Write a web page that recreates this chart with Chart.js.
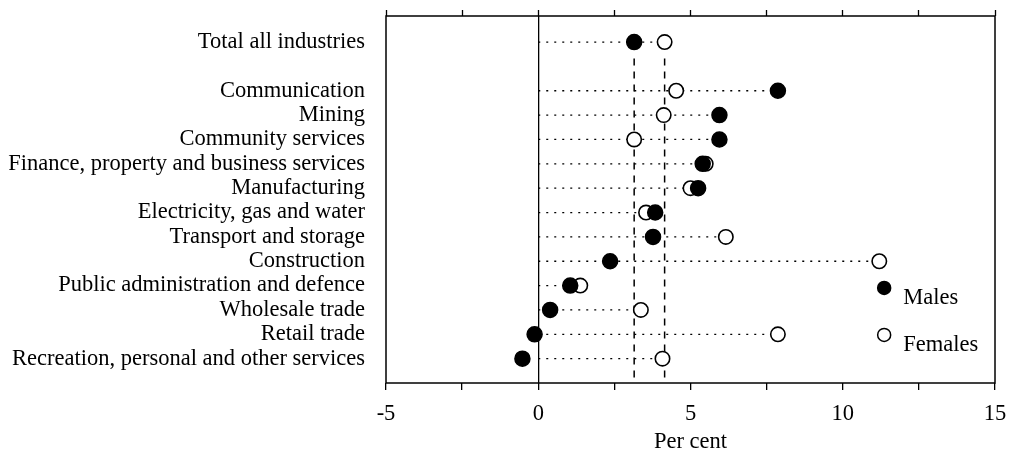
<!DOCTYPE html>
<html>
<head>
<meta charset="utf-8">
<script src="https://cdn.jsdelivr.net/npm/chart.js@4.4.0/dist/chart.umd.min.js"></script>
<style>
  html, body { margin: 0; padding: 0; background: #fff; }
  #wrap { width: 1021px; height: 456px; }
</style>
</head>
<body>
<div id="wrap"><canvas id="chart" width="1021" height="456"></canvas></div>
<script>
// industries, top to bottom (a blank row sits after the total)
const categories = [
  'Total all industries',
  'Communication',
  'Mining',
  'Community services',
  'Finance, property and business services',
  'Manufacturing',
  'Electricity, gas and water',
  'Transport and storage',
  'Construction',
  'Public administration and defence',
  'Wholesale trade',
  'Retail trade',
  'Recreation, personal and other services'
];
const males   = [3.15, 7.87, 5.95, 5.95, 5.40, 5.25, 3.84, 3.77, 2.36, 1.05, 0.39, -0.12, -0.52];
const females = [4.15, 4.53, 4.12, 3.15, 5.50, 5.00, 3.54, 6.16, 11.20, 1.38, 3.37, 7.87, 4.08];
const seriesNames = ['Males', 'Females'];
const xTicks = [-5, 0, 5, 10, 15];
const xTitle = 'Per cent';

const FONT = 'Liberation Serif';
const FS = 22.5;
const rowPos = categories.map((c, i) => i === 0 ? 0 : i + 1);
const yMin = -1.07, yMax = 14.0;

const pts = vals => vals.map((v, i) => ({ x: v, y: rowPos[i] }));

// dotted leaders from zero out to the farther marker
const leaders = categories.map((c, i) => ({
  type: 'line',
  data: [{ x: 0, y: rowPos[i] }, { x: Math.max(males[i], females[i]), y: rowPos[i] }],
  borderColor: '#000',
  borderWidth: 1.3,
  borderDash: [2, 6],
  pointRadius: 0,
  order: 3
}));

// dashed reference lines at the all-industry totals
const totals = [males[0], females[0]].map(v => ({
  type: 'line',
  data: [{ x: v, y: 0.68 }, { x: v, y: yMax }],
  borderColor: '#000',
  borderWidth: 1.5,
  borderDash: [7, 6],
  pointRadius: 0,
  order: 3
}));

const frame = {
  id: 'frame',
  afterDraw(chart) {
    const { ctx, chartArea: a } = chart;
    ctx.save();
    ctx.strokeStyle = '#000';
    ctx.lineWidth = 1.5;
    ctx.strokeRect(a.left, a.top, a.right - a.left, a.bottom - a.top);

    // legend inside the plot
    const lx = a.left + (a.right - a.left) * 0.818;
    const ys = [a.top + (a.bottom - a.top) * 0.741, a.top + (a.bottom - a.top) * 0.869];
    ctx.font = FS + 'px "' + FONT + '"';
    ctx.textBaseline = 'middle';
    ctx.textAlign = 'left';
    seriesNames.forEach((name, i) => {
      ctx.beginPath();
      ctx.arc(lx, ys[i], 6.5, 0, Math.PI * 2);
      ctx.fillStyle = i === 0 ? '#000' : '#fff';
      ctx.fill();
      ctx.lineWidth = 1.5;
      ctx.strokeStyle = '#000';
      ctx.stroke();
      ctx.fillStyle = '#000';
      ctx.fillText(name, lx + 19, ys[i] + 10.5);
    });
    ctx.restore();
  }
};

new Chart(document.getElementById('chart'), {
  type: 'scatter',
  data: {
    datasets: [
      {
        label: seriesNames[0],
        data: pts(males),
        backgroundColor: '#000',
        borderColor: '#000',
        borderWidth: 1.5,
        pointRadius: 7.5,
        order: 0
      },
      {
        label: seriesNames[1],
        data: pts(females),
        backgroundColor: '#fff',
        borderColor: '#000',
        borderWidth: 1.6,
        pointRadius: 7.2,
        order: 1
      },
      ...leaders,
      ...totals
    ]
  },
  options: {
    responsive: false,
    animation: false,
    events: [],
    layout: { padding: { top: 0, right: 26, bottom: 0, left: 0 } },
    plugins: { legend: { display: false }, tooltip: { enabled: false } },
    scales: {
      x: {
        type: 'linear',
        position: 'bottom',
        min: xTicks[0],
        max: xTicks[xTicks.length - 1],
        ticks: {
          stepSize: 2.5,
          color: '#000',
          padding: 11,
          maxRotation: 0,
          font: { family: FONT, size: FS },
          callback: v => xTicks.includes(v) ? String(v) : ''
        },
        grid: {
          drawOnChartArea: true,
          color: c => c.tick && c.tick.value === 0 ? '#000' : 'rgba(0,0,0,0)',
          lineWidth: 1.3,
          tickColor: '#000',
          tickLength: 7,
          tickWidth: 1.3
        },
        border: { display: false },
        title: {
          display: true,
          text: xTitle,
          color: '#000',
          font: { family: FONT, size: FS },
          padding: { top: 1, bottom: 0 }
        },
        afterFit: s => { s.height = 73; s.paddingLeft = 0; s.paddingRight = 0; }
      },
      x2: {
        type: 'linear',
        position: 'top',
        min: xTicks[0],
        max: xTicks[xTicks.length - 1],
        ticks: { stepSize: 2.5, display: false },
        grid: {
          drawOnChartArea: false,
          tickColor: '#000',
          tickLength: 6,
          tickWidth: 1.3
        },
        border: { display: false },
        afterFit: s => { s.height = 16; s.paddingLeft = 0; s.paddingRight = 0; }
      },
      y: {
        type: 'linear',
        reverse: true,
        min: yMin,
        max: yMax,
        afterBuildTicks: s => { s.ticks = rowPos.map(p => ({ value: p })); },
        ticks: {
          autoSkip: false,
          color: '#000',
          padding: 21,
          font: { family: FONT, size: FS },
          callback: v => {
            const i = rowPos.indexOf(v);
            return i >= 0 ? categories[i] : '';
          }
        },
        grid: { display: false, drawTicks: false },
        border: { display: false },
        afterFit: s => { s.width = 386; s.paddingTop = 0; s.paddingBottom = 0; }
      }
    }
  },
  plugins: [frame]
});
</script>
</body>
</html>
